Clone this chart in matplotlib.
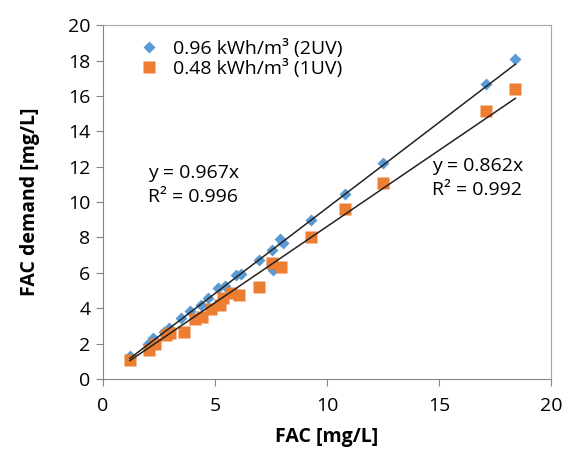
import matplotlib.pyplot as plt
import numpy as np

# FAC demand vs FAC dose, two UV energy levels
fac_2uv = [1.2, 2.0, 2.25, 2.7, 2.95, 3.5, 3.9, 4.35, 4.7, 5.15, 5.45, 5.95, 6.15,
           6.95, 7.55, 7.6, 7.9, 8.05, 9.3, 10.8, 12.5, 17.1, 18.4]
demand_2uv = [1.3, 1.95, 2.3, 2.65, 2.9, 3.45, 3.85, 4.2, 4.55, 5.15, 5.25, 5.9, 5.95,
              6.7, 7.3, 6.15, 7.9, 7.7, 9.0, 10.45, 12.2, 16.7, 18.1]

fac_1uv = [1.2, 2.05, 2.3, 2.8, 3.0, 3.6, 4.1, 4.4, 4.8, 5.2, 5.35, 5.7, 6.05,
           6.95, 7.55, 7.95, 9.3, 10.8, 12.5, 17.1, 18.4]
demand_1uv = [1.05, 1.65, 1.95, 2.5, 2.6, 2.65, 3.4, 3.5, 3.95, 4.2, 4.6, 4.85, 4.75,
              5.2, 6.55, 6.35, 8.05, 9.6, 11.1, 15.15, 16.4]

slope_2uv, r2_2uv = 0.967, 0.996
slope_1uv, r2_1uv = 0.862, 0.992

plt.rcParams['font.family'] = ['Open Sans', 'DejaVu Sans']

fig = plt.figure(figsize=(5.63, 4.5), dpi=100)
ax = fig.add_axes([0.183, 0.158, 0.796, 0.786])

ax.plot(fac_2uv, demand_2uv, 'D', color='#5B9BD5', ms=6.3, mec='none',
        label='0.96 kWh/m³ (2UV)', zorder=2)
ax.plot(fac_1uv, demand_1uv, 's', color='#ED7D31', ms=8.4, mec='none',
        label='0.48 kWh/m³ (1UV)', zorder=3)

# linear fits through origin
xf = np.array([min(fac_2uv), max(fac_2uv)])
ax.plot(xf, slope_2uv * xf, color='#222222', lw=1.1, zorder=4)
xf = np.array([min(fac_1uv), max(fac_1uv)])
ax.plot(xf, slope_1uv * xf, color='#222222', lw=1.1, zorder=4)

ax.text(2.0, 10.95, f'y = {slope_2uv}x\nR² = {r2_2uv}', fontsize=14, va='center',
        linespacing=1.45)
ax.text(14.7, 11.35, f'y = {slope_1uv}x\nR² = {r2_1uv}', fontsize=14, va='center',
        linespacing=1.45)

ax.set_xlim(0, 20)
ax.set_ylim(0, 20)
ax.set_xticks(range(0, 21, 5))
ax.set_yticks(range(0, 21, 2))
ax.tick_params(labelsize=14, colors='#868686', labelcolor='black', length=5,
               direction='out', pad=4)
ax.xaxis.set_tick_params(pad=8)
for s in ax.spines.values():
    s.set_color('#a6a6a6')
ax.spines['left'].set_color('#868686')
ax.spines['bottom'].set_color('#868686')

ax.set_xlabel('FAC [mg/L]', fontsize=14, fontweight='bold', labelpad=9)
ax.set_ylabel('FAC demand [mg/L]', fontsize=14, fontweight='bold', labelpad=20)

ax.legend(loc='upper left', bbox_to_anchor=(0.03, 1.01), frameon=False,
          fontsize=14, handletextpad=0.5, labelspacing=0.02, handlelength=1.5)

fig.savefig('out.png', dpi=100)
